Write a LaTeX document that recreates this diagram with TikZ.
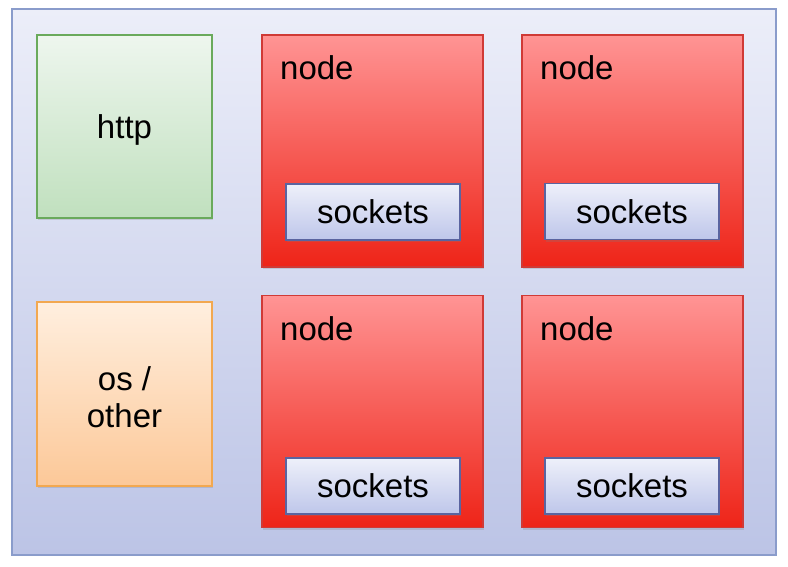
\documentclass[tikz,border=0pt]{standalone}
\usepackage{fontspec}
\setmainfont{Liberation Sans}
\usetikzlibrary{shadows}
\definecolor{frameline}{HTML}{8A9CCB}
\definecolor{frametop}{HTML}{ECEEF9}
\definecolor{framebot}{HTML}{BCC4E6}
\definecolor{httpline}{HTML}{6AAA5C}
\definecolor{httptop}{HTML}{EEF6EE}
\definecolor{httpbot}{HTML}{C0E0BE}
\definecolor{osline}{HTML}{F2A850}
\definecolor{ostop}{HTML}{FFEFDF}
\definecolor{osbot}{HTML}{FCC898}
\definecolor{nodeline}{HTML}{D03A36}
\definecolor{nodetop}{HTML}{FF9494}
\definecolor{nodebot}{HTML}{EE2418}
\definecolor{sockline}{HTML}{5A64A0}
\definecolor{socktop}{HTML}{EEF0FA}
\definecolor{sockbot}{HTML}{BEC6EA}
\begin{document}
\begin{tikzpicture}[x=1pt,y=-1pt,
    box/.style={draw, line width=1.5pt, inner sep=0pt,
      drop shadow={opacity=0.25, shadow xshift=1pt, shadow yshift=-2pt}},
    greenbox/.style={box, draw=httpline, top color=httptop, bottom color=httpbot,
      minimum width=175pt, minimum height=183pt},
    orangebox/.style={box, draw=osline, top color=ostop, bottom color=osbot,
      minimum width=175pt, minimum height=184pt},
    redbox/.style={box, draw=nodeline, top color=nodetop, bottom color=nodebot,
      minimum width=221pt, minimum height=232pt},
    sockbox/.style={box, draw=sockline, top color=socktop, bottom color=sockbot,
      minimum width=174pt, minimum height=56pt},
    txt/.style={font=\fontsize{33}{37}\selectfont}]
  \useasboundingbox (0,0) rectangle (788,566);
  % outer frame
  \node[draw=frameline, line width=2pt, top color=frametop, bottom color=framebot,
    minimum width=764pt, minimum height=546pt, inner sep=0pt] (frame) at (394,282) {};
  % left column
  \node[greenbox, txt, text depth=0pt] (http) at (124.5,126.5) {http};
  \node[orangebox] (os) at (124.5,394) {};
  \node[txt, align=center] (ostext) at (124.5,397) {os /\\other};
  % node boxes
  \node[redbox] (n1) at (372.5,151) {};
  \node[redbox] (n2) at (632.5,151) {};
  \node[redbox] (n3) at (372.5,411.5) {};
  \node[redbox] (n4) at (632.5,411.5) {};
  \node[txt, anchor=base west, inner sep=0pt] (l1) at (280,79) {node};
  \node[txt, anchor=base west, inner sep=0pt] (l2) at (540,79) {node};
  \node[txt, anchor=base west, inner sep=0pt] (l3) at (280,340) {node};
  \node[txt, anchor=base west, inner sep=0pt] (l4) at (540,340) {node};
  % sockets
  \node[sockbox, txt] (s1) at (373,212) {sockets};
  \node[sockbox, txt] (s2) at (632,211.5) {sockets};
  \node[sockbox, txt] (s3) at (373,486) {sockets};
  \node[sockbox, txt] (s4) at (632,486) {sockets};
\end{tikzpicture}
\end{document}
